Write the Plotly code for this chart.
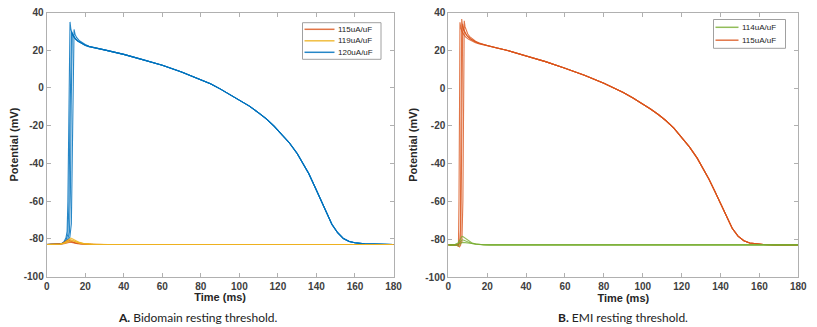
import plotly.graph_objects as go

# ---- data (Time in ms, Potential in mV) ----

# Bidomain: late plateau + repolarisation shared by all 120uA/uF cells
BIDO_TAIL_T = [25, 30, 40, 50, 60, 70, 80, 85, 90, 95, 100, 105, 110, 114, 118, 122, 126, 130,
               133, 136, 139, 142, 145, 148, 151, 154, 157, 160, 165, 170, 180]
BIDO_TAIL_V = [21.3, 20.2, 17.8, 15.0, 12.0, 8.5, 4.5, 2.2, -0.5, -3.4, -6.4, -9.5, -13.2, -16.4,
               -20.3, -24.5, -29.2, -34.8, -39.8, -45.4, -52.0, -59.0, -66.0, -72.3, -76.8,
               -79.9, -81.4, -82.1, -82.7, -82.9, -83.0]

# Bidomain 120uA/uF, upstrokes (one list per cell)
BIDO_120_T = [
    [0, 6, 8, 9, 10, 10.6, 11.0, 11.4, 11.8, 12.1, 12.5, 13, 14, 15, 16.5, 18, 20, 22],
    [0, 6, 8, 9, 10, 11, 11.6, 12.0, 12.4, 12.9, 13.5, 14.5, 16, 18, 20, 22],
    [0, 6, 8, 10, 11, 12, 12.8, 13.3, 13.8, 14.2, 14.7, 15.5, 17, 18.5, 20, 22],
    [0, 6, 8, 10, 11, 11.8, 12.3, 12.7, 13.0, 13.3, 14, 15, 16.5, 18, 20, 22],
]
BIDO_120_V = [
    [-83, -82.9, -82.4, -81.6, -79.5, -76, -60, -20, 20, 35, 31.5, 29.5, 27.2, 25.8, 24.6, 23.7, 22.8, 22.0],
    [-83, -82.9, -82.5, -81.9, -80.8, -77.5, -60, -20, 15, 30, 28.3, 26.6, 24.9, 23.6, 22.6, 21.9],
    [-83, -82.9, -82.6, -81.6, -80.8, -79.2, -72, -35, 10, 31, 28.5, 26.8, 25.0, 23.9, 23.0, 22.1],
    [-83, -82.9, -82.5, -81.2, -80.0, -76.5, -55, -10, 20, 29, 27.4, 26.0, 24.7, 23.6, 22.5, 21.8],
]

# Bidomain 115uA/uF, sub-threshold
BIDO_115_T = [
    [0, 5, 7, 8, 9, 10, 11, 12, 13, 14, 16, 18, 20, 23, 26, 30, 180],
    [0, 5, 7, 8, 9, 10, 11.5, 12.5, 13.5, 15, 17, 19, 22, 25, 30, 180],
    [0, 5, 7, 9, 10, 11, 12, 13, 14, 16, 18, 21, 25, 30, 180],
]
BIDO_115_V = [
    [-83, -83, -82.8, -82.5, -82, -81.3, -80.6, -80.9, -81.5, -81.9, -82.4, -82.7, -82.85, -82.95, -83, -83, -83],
    [-83, -83, -82.8, -82.6, -82.3, -81.9, -81.2, -81.4, -81.8, -82.2, -82.6, -82.8, -82.95, -83, -83, -83],
    [-83, -83, -82.9, -82.6, -82.4, -82.1, -81.8, -82.0, -82.3, -82.6, -82.8, -82.95, -83, -83, -83],
]

# Bidomain 119uA/uF, sub-threshold
BIDO_119_T = [
    [0, 5, 7, 9, 10, 11, 12, 12.5, 13, 14, 15, 17, 19, 21, 24, 28, 35, 180],
    [0, 5, 7, 9, 10, 11, 12, 13, 14, 15, 17, 19, 22, 26, 32, 180],
    [0, 5, 7, 9, 10, 11, 12, 13, 14, 15, 17, 19, 22, 26, 32, 180],
]
BIDO_119_V = [
    [-83, -83, -82.8, -82.2, -81.6, -80.7, -79.9, -79.6, -79.8, -80.4, -81.0, -81.9, -82.4, -82.7, -82.9, -83, -83, -83],
    [-83, -83, -82.8, -82.3, -81.8, -81.0, -80.3, -80.5, -81.0, -81.5, -82.2, -82.6, -82.85, -83, -83, -83],
    [-83, -83, -82.9, -82.5, -82.1, -81.6, -81.2, -81.0, -81.3, -81.7, -82.3, -82.7, -82.9, -83, -83, -83],
]

# EMI: late plateau + repolarisation shared by all 115uA/uF cells
EMI_TAIL_T = [20, 25, 30, 40, 50, 60, 70, 80, 85, 90, 95, 100, 104, 108, 112, 116, 120, 124,
              128, 131, 134, 137, 140, 143, 146, 149, 152, 155, 158, 162, 168, 180]
EMI_TAIL_V = [22.5, 21.2, 20.0, 17.0, 14.0, 10.5, 6.8, 2.5, 0.2, -2.4, -5.3, -8.4, -11.1, -14.0,
              -17.3, -21.2, -25.9, -31.1, -37.1, -42.3, -48.1, -54.5, -61.3, -68.2, -74.2,
              -78.4, -80.8, -82.0, -82.5, -82.8, -83.0, -83.0]

# EMI 115uA/uF, upstrokes
EMI_115_T = [
    [0, 3, 4.5, 5.2, 5.5, 5.8, 6.0, 6.4, 7, 8, 9, 10.5, 12, 14, 16, 18],
    [0, 3, 5, 5.8, 6.2, 6.5, 6.9, 7.3, 8, 9, 10, 11.5, 13, 15, 17, 19],
    [0, 3, 5, 6, 7, 7.5, 7.9, 8.2, 8.6, 9.3, 10, 11, 12.5, 14, 16, 18],
    [0, 3, 5, 5.8, 6.4, 6.8, 7.1, 7.4, 7.9, 8.6, 9.5, 11, 12.5, 14, 16, 18],
]
EMI_115_V = [
    [-83, -83, -83.3, -83.8, -60, -5, 34.8, 32, 30, 28.3, 27, 25.8, 24.9, 24.0, 23.3, 22.9],
    [-83, -83, -82.7, -82, -75, -20, 36.5, 33, 30.5, 28.6, 27.3, 26, 25, 24, 23.3, 22.8],
    [-83, -83, -82.8, -82.3, -81.5, -60, -5, 35.6, 32.5, 30, 28.6, 27.2, 25.8, 24.8, 23.8, 23.0],
    [-83, -83, -83.2, -84, -83, -40, 10, 34, 31, 29.2, 27.8, 26.3, 25.3, 24.4, 23.6, 23.0],
]

# EMI 114uA/uF, sub-threshold
EMI_114_T = [
    [0, 3, 5, 6, 6.5, 7, 7.5, 8.5, 10, 12, 14, 16, 18, 21, 25, 180],
    [0, 3, 5, 5.8, 6.5, 7.2, 8, 9, 10.5, 12, 14, 16, 19, 23, 180],
    [0, 3, 4.5, 5.2, 6, 6.8, 7.5, 9, 11, 13, 15, 18, 22, 180],
]
EMI_114_V = [
    [-83, -83, -82, -80, -79, -78.5, -78.6, -79.4, -80.7, -81.9, -82.5, -82.8, -82.95, -83, -83, -83],
    [-83, -83, -82.4, -81.5, -80.6, -80.3, -80.5, -81.0, -81.8, -82.3, -82.7, -82.9, -83, -83, -83],
    [-83, -83, -83.2, -83.6, -82.6, -81.9, -81.7, -81.9, -82.3, -82.6, -82.8, -82.95, -83, -83],
]

X_TICKS = [0, 20, 40, 60, 80, 100, 120, 140, 160, 180]
Y_TICKS = [-100, -80, -60, -40, -20, 0, 20, 40]
Y_TICK_TEXT = ["-100", "-80", "-60", "-40", "-20", "0", "20", "40"]

LEGEND_A = ["115uA/uF", "119uA/uF", "120uA/uF"]
LEGEND_B = ["114uA/uF", "115uA/uF"]

BLUE = "rgba(0,114,189,0.85)"
ORANGE = "rgba(217,83,25,0.8)"
YELLOW = "rgba(237,177,32,0.85)"
GREEN = "rgba(119,172,48,0.8)"

fig = go.Figure()


def add_group(ts, vs, name, color, xaxis, yaxis, tail_t=None, tail_v=None):
    for t, v in zip(ts, vs):
        if tail_t is not None:
            t = t + tail_t
            v = v + tail_v
        fig.add_trace(go.Scatter(
            x=t, y=v, mode="lines", name=name, legendgroup=name, showlegend=False,
            line=dict(color=color, width=1.1),
            xaxis=xaxis, yaxis=yaxis,
        ))


# panel A (order: back to front)
add_group(BIDO_120_T, BIDO_120_V, "120uA/uF", BLUE, "x", "y", BIDO_TAIL_T, BIDO_TAIL_V)
add_group(BIDO_115_T, BIDO_115_V, "115uA/uF", ORANGE, "x", "y")
add_group(BIDO_119_T, BIDO_119_V, "119uA/uF", YELLOW, "x", "y")

# panel B
add_group(EMI_115_T, EMI_115_V, "115uA/uF", ORANGE, "x2", "y2", EMI_TAIL_T, EMI_TAIL_V)
add_group(EMI_114_T, EMI_114_V, "114uA/uF", GREEN, "x2", "y2")

# the page body has an 8px margin, so the figure is 8px smaller than the window
OFF = 8
W, H = 817 - OFF, 327 - OFF


def px(x):
    return (x - OFF) / W


def py(y):
    return 1 - (y - OFF) / H


tick_font = dict(family="Liberation Sans, Arial, sans-serif", size=10, color="#404040", weight="bold")
title_font = dict(family="Liberation Sans, Arial, sans-serif", size=11, color="#262626", weight="bold")
legend_font = dict(family="Liberation Sans, Arial, sans-serif", size=8, color="#222")

axis_common = dict(
    showline=True, linecolor="#b0b0b0", linewidth=1, mirror="ticks",
    ticks="inside", ticklen=4, tickcolor="#b0b0b0", tickwidth=1,
    showgrid=False, zeroline=False, tickfont=tick_font, automargin=False,
    ticklabeloverflow="allow",
)

# matlab-style boxed legends
shapes = []
annotations = []


def add_legend(box, line_x, text_x, rows, names, colors):
    x0, y0, x1, y1 = box
    shapes.append(dict(type="rect", xref="paper", yref="paper",
                       x0=px(x0), x1=px(x1), y0=py(y0), y1=py(y1),
                       line=dict(color="#a0a0a0", width=1), fillcolor="white", layer="above"))
    for yy, name, col in zip(rows, names, colors):
        shapes.append(dict(type="line", xref="paper", yref="paper",
                           x0=px(line_x[0]), x1=px(line_x[1]), y0=py(yy), y1=py(yy),
                           line=dict(color=col, width=1.5), layer="above"))
        annotations.append(dict(text=name, x=px(text_x), y=py(yy), xref="paper", yref="paper",
                                showarrow=False, xanchor="left", yanchor="middle", font=legend_font))


add_legend((302.5, 22.7, 381, 59.3), (304.5, 334.5), 336, (29.3, 40.8, 52.3),
           LEGEND_A, [ORANGE, YELLOW, BLUE])
add_legend((713.5, 19.5, 785.5, 48.3), (715.5, 738.5), 739.5, (27.3, 40.2),
           LEGEND_B, [GREEN, ORANGE])

caption_font = dict(family="Lato, Noto Sans, sans-serif", size=12, color="#222")
annotations += [
    dict(text="<b>A.</b> Bidomain resting threshold.", x=px(197.5), y=py(317),
         xref="paper", yref="paper", showarrow=False, xanchor="center", yanchor="middle",
         font=caption_font),
    dict(text="<b>B.</b> EMI resting threshold.", x=px(622.5), y=py(317),
         xref="paper", yref="paper", showarrow=False, xanchor="center", yanchor="middle",
         font=caption_font),
]

# top of the boxes sits a little low so the "40" labels stay inside the page
TOP = 12.5

fig.update_layout(
    width=W, height=H,
    margin=dict(l=0, r=0, t=0, b=0),
    paper_bgcolor="white", plot_bgcolor="white",
    showlegend=False,
    xaxis=dict(domain=[px(46.7), px(393.5)], range=[0, 180], tickvals=X_TICKS,
               title=dict(text="Time (ms)", font=title_font, standoff=2), anchor="y", **axis_common),
    yaxis=dict(domain=[py(276.5), py(TOP)], range=[-100, 40],
               tickvals=Y_TICKS, ticktext=Y_TICK_TEXT,
               title=dict(text="Potential (mV)", font=title_font, standoff=5), anchor="x", **axis_common),
    xaxis2=dict(domain=[px(448.3), px(798.3)], range=[0, 180], tickvals=X_TICKS,
                title=dict(text="Time (ms)", font=title_font, standoff=2), anchor="y2", **axis_common),
    yaxis2=dict(domain=[py(277), py(TOP)], range=[-100, 40],
                tickvals=Y_TICKS, ticktext=Y_TICK_TEXT,
                title=dict(text="Potential (mV)", font=title_font, standoff=5), anchor="x2", **axis_common),
    shapes=shapes,
    annotations=annotations,
)

fig.write_html("out.html")
